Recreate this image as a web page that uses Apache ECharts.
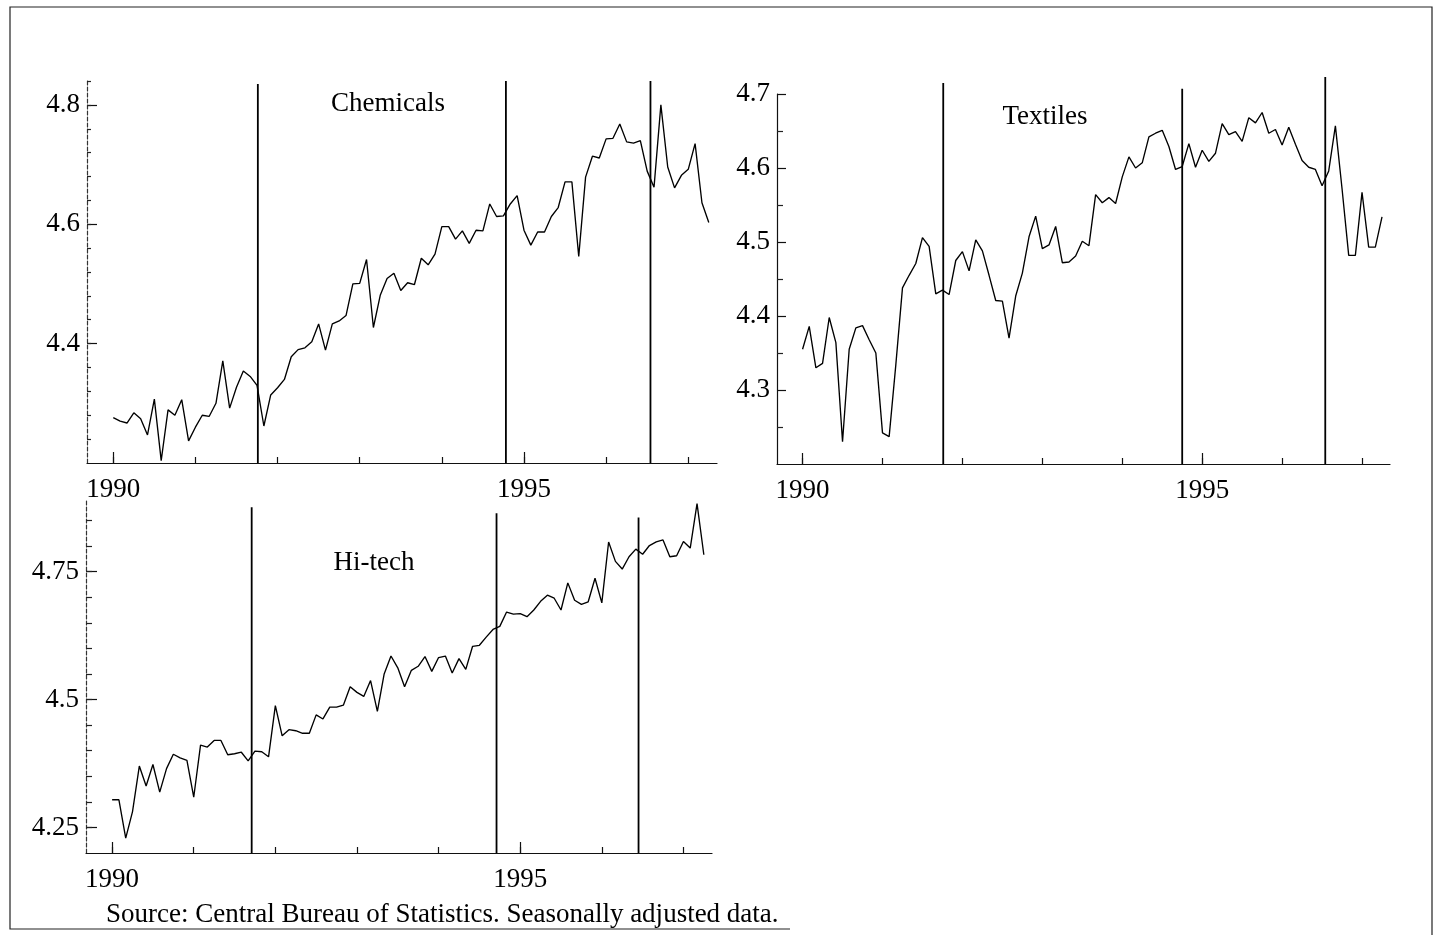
<!DOCTYPE html>
<html>
<head>
<meta charset="utf-8">
<script src="https://cdn.jsdelivr.net/npm/echarts@6/dist/echarts.min.js"></script>
<style>
html,body{margin:0;padding:0;background:#fff;}
#c{width:1442px;height:935px;}
</style>
</head>
<body>
<div id="c"></div>
<script>
// Monthly data, January 1990 to April 1997 (88 months), logs, seasonally adjusted
const startYear = 1990;

const chemicals = [
  4.276, 4.270, 4.267, 4.284, 4.274, 4.247, 4.307, 4.204, 4.289, 4.280,
  4.306, 4.237, 4.260, 4.280, 4.278, 4.300, 4.371, 4.292, 4.327, 4.354,
  4.345, 4.330, 4.262, 4.314, 4.326, 4.340, 4.378, 4.390, 4.393, 4.403,
  4.433, 4.389, 4.433, 4.438, 4.447, 4.500, 4.501, 4.541, 4.427, 4.481,
  4.509, 4.518, 4.489, 4.502, 4.499, 4.543, 4.532, 4.550, 4.596, 4.596,
  4.575, 4.589, 4.568, 4.590, 4.589, 4.634, 4.613, 4.614, 4.634, 4.648,
  4.590, 4.565, 4.587, 4.587, 4.613, 4.628, 4.671, 4.671, 4.546, 4.679,
  4.714, 4.711, 4.743, 4.744, 4.768, 4.738, 4.736, 4.740, 4.689, 4.662,
  4.800, 4.696, 4.661, 4.682, 4.692, 4.735, 4.636, 4.603
];

const textiles = [
  4.355, 4.386, 4.330, 4.336, 4.398, 4.364, 4.230, 4.355, 4.384, 4.387,
  4.368, 4.350, 4.242, 4.237, 4.334, 4.438, 4.455, 4.471, 4.506, 4.494,
  4.430, 4.435, 4.429, 4.475, 4.487, 4.461, 4.503, 4.488, 4.455, 4.421,
  4.420, 4.370, 4.427, 4.458, 4.507, 4.535, 4.491, 4.496, 4.521, 4.472,
  4.473, 4.481, 4.501, 4.495, 4.564, 4.553, 4.560, 4.552, 4.588, 4.615,
  4.600, 4.607, 4.642, 4.647, 4.651, 4.629, 4.598, 4.602, 4.633, 4.601,
  4.624, 4.609, 4.620, 4.660, 4.645, 4.649, 4.636, 4.668, 4.661, 4.675,
  4.647, 4.652, 4.631, 4.655, 4.632, 4.610, 4.601, 4.598, 4.576, 4.596,
  4.657, 4.572, 4.482, 4.482, 4.567, 4.493, 4.493, 4.534
];

const hitech = [
  4.304, 4.304, 4.229, 4.281, 4.370, 4.331, 4.373, 4.319, 4.365, 4.393,
  4.386, 4.381, 4.309, 4.411, 4.407, 4.420, 4.420, 4.392, 4.394, 4.397,
  4.380, 4.399, 4.398, 4.388, 4.488, 4.429, 4.441, 4.439, 4.434, 4.434,
  4.470, 4.462, 4.485, 4.485, 4.489, 4.525, 4.514, 4.506, 4.537, 4.477,
  4.550, 4.585, 4.562, 4.525, 4.557, 4.565, 4.584, 4.555, 4.582, 4.585,
  4.552, 4.580, 4.559, 4.604, 4.606, 4.622, 4.637, 4.643, 4.671, 4.667,
  4.668, 4.662, 4.675, 4.692, 4.704, 4.698, 4.675, 4.728, 4.694, 4.686,
  4.691, 4.737, 4.689, 4.808, 4.770, 4.755, 4.779, 4.794, 4.784, 4.801,
  4.808, 4.812, 4.779, 4.781, 4.809, 4.796, 4.883, 4.783
];

// Break dates (vertical lines) and how high each line reaches
const chemBreaks = [1991.76, 1994.78, 1996.54];
const chemBreakTops = [4.835, 4.84, 4.84];
const textBreaks = [1991.76, 1994.75, 1996.54];
const textBreakTops = [4.715, 4.707, 4.723];
const hitechBreaks = [1991.71, 1994.71, 1996.45];
const hitechBreakTops = [4.876, 4.864, 4.856];

// Tick labels
const xLabelYears = [1990, 1995];
const xTickYears = [1990, 1991, 1992, 1993, 1994, 1995, 1996, 1997];
const chemYLabels = [4.4, 4.6, 4.8];
const textYLabels = [4.3, 4.4, 4.5, 4.6, 4.7];
const hitechYLabels = [4.25, 4.5, 4.75];

const panelNames = ['Chemicals', 'Textiles', 'Hi-tech'];
const sourceNote = 'Source: Central Bureau of Statistics. Seasonally adjusted data.';

function steps(from, to, step) {
  const out = [];
  for (let v = from; v <= to + 1e-9; v += step) out.push(Math.round(v * 1000) / 1000);
  return out;
}

const FONT = '"Liberation Serif", "Times New Roman", serif';
const FS = 27;
const xMin = 1989.68, xMax = 1997.35;

const panels = [
  { grid: {left: 87, top: 81, width: 630, height: 382}, yMin: 4.2, yMax: 4.84,
    yLabels: chemYLabels, yMinor: steps(4.24, 4.84, 0.04), major: 10, minor: 4, dashed: true,
    values: chemicals, breaks: chemBreaks, tops: chemBreakTops },
  { grid: {left: 777, top: 94, width: 613, height: 370}, yMin: 4.2, yMax: 4.7,
    yLabels: textYLabels, yMinor: steps(4.25, 4.65, 0.1), major: 9, minor: 6, dashed: false,
    values: textiles, breaks: textBreaks, tops: textBreakTops },
  { grid: {left: 86, top: 500, width: 626, height: 353}, yMin: 4.2, yMax: 4.89,
    yLabels: hitechYLabels, yMinor: steps(4.25, 4.85, 0.05), major: 11, minor: 6, dashed: true,
    values: hitech, breaks: hitechBreaks, tops: hitechBreakTops }
];

const grids = [], xAxes = [], yAxes = [], series = [];
panels.forEach((p, gi) => {
  grids.push(p.grid);
  xAxes.push({
    type: 'value', gridIndex: gi, min: xMin, max: xMax, position: 'bottom',
    axisLine: {show: true, onZero: false, lineStyle: {color: '#111', width: 1.2}},
    axisTick: {show: true, inside: true, length: 11, customValues: xLabelYears, lineStyle: {color: '#111', width: 1.2}},
    axisLabel: {show: true, customValues: xLabelYears, margin: 13, color: '#000', fontFamily: FONT, fontSize: FS,
                formatter: v => String(Math.round(v))},
    splitLine: {show: false}
  });
  xAxes.push({
    type: 'value', gridIndex: gi, min: xMin, max: xMax, position: 'bottom',
    axisLine: {show: false, onZero: false},
    axisTick: {show: true, inside: true, length: 6, customValues: xTickYears, lineStyle: {color: '#111', width: 1.2}},
    axisLabel: {show: false},
    splitLine: {show: false}
  });
  yAxes.push({
    type: 'value', gridIndex: gi, min: p.yMin, max: p.yMax, position: 'left',
    axisLine: {show: true, onZero: false, lineStyle: {color: p.dashed ? '#333' : '#111', width: 1.2, type: p.dashed ? [4, 2] : 'solid'}},
    axisTick: {show: true, inside: true, length: p.major, customValues: p.yLabels, lineStyle: {color: '#111', width: 1.2}},
    axisLabel: {show: true, customValues: p.yLabels, margin: 7, color: '#000', fontFamily: FONT, fontSize: FS,
                formatter: v => String(Math.round(v * 100) / 100)},
    splitLine: {show: false}
  });
  yAxes.push({
    type: 'value', gridIndex: gi, min: p.yMin, max: p.yMax, position: 'left',
    axisLine: {show: false, onZero: false},
    axisTick: {show: true, inside: true, length: p.minor, customValues: p.yMinor, lineStyle: {color: '#222', width: 1.2}},
    axisLabel: {show: false},
    splitLine: {show: false}
  });
  series.push({
    type: 'line', xAxisIndex: gi * 2, yAxisIndex: gi * 2,
    data: p.values.map((v, i) => [startYear + i / 12, v]),
    showSymbol: false, symbol: 'none', silent: true,
    lineStyle: {color: '#000', width: 1.35}
  });
  p.breaks.forEach((b, k) => {
    series.push({
      type: 'line', xAxisIndex: gi * 2, yAxisIndex: gi * 2, clip: false,
      data: [[b, p.yMin], [b, p.tops[k]]],
      showSymbol: false, symbol: 'none', silent: true,
      lineStyle: {color: '#000', width: 1.8}
    });
  });
});

const textStyle = (t) => ({text: t, fill: '#000', fontFamily: FONT, fontSize: FS, align: 'center', verticalAlign: 'middle'});

const chart = echarts.init(document.getElementById('c'), null, {renderer: 'canvas'});
chart.setOption({
  animation: false,
  backgroundColor: '#fff',
  grid: grids,
  xAxis: xAxes,
  yAxis: yAxes,
  series: series,
  graphic: [
    {type: 'text', x: 388, y: 104, style: textStyle(panelNames[0])},
    {type: 'text', x: 1045, y: 117, style: textStyle(panelNames[1])},
    {type: 'text', x: 374, y: 563, style: textStyle(panelNames[2])},
    {type: 'text', x: 106, y: 915, style: {text: sourceNote, fill: '#000', fontFamily: FONT, fontSize: FS, align: 'left', verticalAlign: 'middle'}},
    {type: 'polyline', shape: {points: [[790, 929], [10, 929], [10, 7], [1432, 7], [1432, 935]]},
     style: {stroke: '#222', lineWidth: 1.2, fill: null}, silent: true}
  ]
});
</script>
</body>
</html>
